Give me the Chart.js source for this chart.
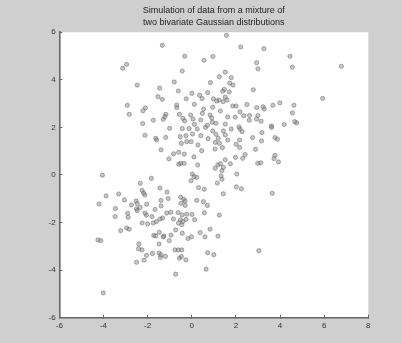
<!DOCTYPE html>
<html>
<head>
<meta charset="utf-8">
<script src="https://cdn.jsdelivr.net/npm/chart.js@4.4.1/dist/chart.umd.min.js"></script>
<style>
  html, body { margin: 0; padding: 0; background: #cfcfcf; }
  #wrap { position: relative; width: 402px; height: 343px; }
</style>
</head>
<body>
<div id="wrap"><canvas id="c"></canvas></div>
<script>
// Title lines
const titleLines = ["Simulation of data from a mixture of", "two bivariate Gaussian distributions"];

// Axis tick settings
const xTickValues = [-6, -4, -2, 0, 2, 4, 6, 8];
const yTickValues = [-6, -4, -2, 0, 2, 4, 6];

// Upper component
const clusterA_x = [
  -1.33,-0.32,0.56,-2.95,-3.13,-0.43,-2.47,-0.79,-1.45,-0.61,
  0.01,-1.53,-1.33,-0.25,0.36,0.47,0.72,-2.92,-2.83,-2.10,
  -2.21,-0.68,-0.68,0.12,0.48,-1.17,-1.22,-1.29,-0.56,-1.74,
  -2.22,-0.40,-0.32,0.06,0.41,0.62,0.71,-0.43,-0.12,0.25,
  -2.12,-1.63,-1.59,-1.18,-0.52,-0.26,0.04,0.41,0.74,-0.03,
  -0.23,-0.47,0.28,-1.39,-0.82,-0.59,-0.34,-1.03,0.10,0.45,
  -0.59,-0.50,-0.35,0.27,0.03,0.10,0.23,-1.83,-1.00,0.95,
  1.10,1.20,1.43,1.52,1.79,2.19,2.28,1.07,1.25,1.63,
  2.17,2.76,3.18,3.16,1.06,1.39,2.17,2.01,2.89,1.06,
  1.18,1.30,1.43,1.37,1.75,1.98,2.31,2.42,2.99,3.13,
  1.33,1.37,2.04,1.16,1.43,2.02,2.25,1.52,3.77,3.73,
  3.93,3.65,3.77,3.88,1.57,2.22,3.27,0.96,2.94,3.00,
  1.52,1.25,1.79,0.85,1.72,1.87,1.48,1.40,1.70,2.79,
  1.52,1.60,0.98,1.13,1.24,1.42,1.86,2.01,2.50,3.23,
  2.95,0.54,0.95,1.30,2.19,1.97,1.63,2.36,2.62,-0.05,
  0.83,0.91,0.12,0.93,1.10,1.52,2.14,2.61,2.93,3.00,
  3.14,3.29,4.45,4.56,6.78,5.93,4.63,4.56,3.99,3.68,
  4.67,4.75,4.19,3.61,3.62,0.31,0.57,0.53,0.71,0.57,
  1.25,0.38,0.60,0.83,1.19,3.04,0.72,1.00,0.65,0.23,
  -0.03
];
const clusterA_y = [
  5.45,4.99,4.82,4.65,4.49,4.37,3.78,3.91,3.65,3.53,
  3.43,3.29,3.18,3.20,3.35,3.21,3.46,2.93,2.55,2.82,
  2.70,2.94,2.83,2.97,2.59,2.55,2.45,2.34,2.55,2.30,
  2.16,2.38,2.27,2.35,2.31,2.00,2.09,1.95,1.95,1.93,
  1.67,1.54,1.47,1.58,1.61,1.65,1.72,1.65,1.53,1.40,
  1.40,1.33,1.26,1.06,0.89,0.95,0.88,0.68,0.76,1.02,
  0.45,0.49,0.49,0.42,0.04,-0.07,-0.10,-0.14,1.96,1.85,
  1.71,1.54,1.85,1.68,1.93,1.93,1.82,1.37,1.33,1.47,
  1.47,1.57,1.78,1.43,1.09,1.15,1.16,1.29,1.08,0.28,
  0.42,0.47,0.32,0.18,0.47,0.74,0.70,0.86,0.49,0.51,
  -0.04,-0.18,0.04,-0.34,-0.79,-0.50,-0.58,0.64,0.83,0.69,
  0.55,-0.77,1.57,1.50,5.87,5.38,5.31,4.98,4.72,4.46,
  4.32,4.13,4.09,3.88,3.86,3.78,3.60,3.52,3.49,3.58,
  3.27,3.15,3.20,3.11,3.15,3.08,2.90,2.90,2.96,2.87,
  2.83,2.77,2.85,2.69,2.65,2.43,2.44,2.49,2.50,2.52,
  2.52,2.40,2.13,2.22,2.17,2.14,2.02,2.30,2.35,2.50,
  2.26,2.77,4.99,4.53,4.57,3.22,2.93,2.61,3.03,2.93,
  2.24,2.19,2.12,2.06,2.00,-0.53,-0.60,-1.12,-1.28,-1.59,
  -1.69,-2.42,-2.60,-2.28,-2.57,-3.18,-3.27,-3.35,-3.96,-1.07,
  -0.24
];

// Lower component
const clusterB_x = [
  -4.05,-0.50,-0.36,-0.30,-0.30,-0.49,-1.13,-0.95,-0.62,-0.44,
  -0.23,0.01,-0.83,-1.44,-1.32,-0.51,-0.40,-0.26,0.13,-1.44,
  -1.12,-1.07,-1.39,-1.39,-2.33,-2.25,-2.18,-2.12,-3.31,-3.88,
  -3.05,-2.52,-2.47,-2.73,-2.04,-4.20,-3.46,-2.50,-2.34,-2.47,
  -1.66,-2.90,-2.88,-3.47,-2.12,-2.05,-1.80,-2.25,-2.00,-1.74,
  -1.60,-0.60,-0.45,-3.22,-2.95,-2.83,-1.72,-1.63,-1.47,-1.26,
  -1.29,-0.94,-1.02,-0.73,-0.43,-0.17,-0.01,-2.39,-2.41,-2.25,
  -2.05,-2.50,-2.16,-1.78,-1.48,-1.39,-1.42,-1.48,-1.19,-0.76,
  -0.61,-0.45,-0.56,-0.47,-0.27,-0.73,-4.01,-4.25,-4.12
];
const clusterB_y = [
  -0.01,-0.94,-1.02,-1.10,-1.28,-1.19,-1.60,-1.57,-1.58,-1.68,
  -1.65,-1.66,-1.85,-1.85,-1.81,-1.89,-1.96,-1.87,-1.88,-0.55,
  -0.72,-0.99,-1.07,-1.30,-0.35,-0.65,-0.76,-0.84,-0.80,-0.88,
  -1.05,-1.09,-1.20,-1.26,-1.23,-1.22,-1.41,-1.42,-1.36,-1.50,
  -1.45,-1.61,-1.78,-1.75,-1.60,-1.69,-1.75,-2.02,-2.06,-2.02,
  -1.96,-2.02,-2.09,-2.34,-2.23,-2.28,-2.54,-2.56,-2.41,-2.57,
  -2.60,-2.53,-2.76,-2.31,-2.45,-2.67,-2.60,-2.90,-3.10,-3.15,
  -3.38,-3.67,-3.58,-3.30,-3.28,-3.36,-3.47,-2.90,-3.42,-3.15,
  -3.15,-3.15,-3.50,-3.43,-3.57,-4.17,-4.96,-2.73,-2.76
];

const allX = clusterA_x.concat(clusterB_x);
const allY = clusterA_y.concat(clusterB_y);
const points = allX.map((x, i) => ({ x: x, y: allY[i] }));

const plotBg = {
  id: 'plotBg',
  beforeDraw(chart) {
    const { ctx, chartArea: a } = chart;
    ctx.save();
    ctx.fillStyle = '#ffffff';
    ctx.fillRect(a.left, a.top, a.right - a.left, a.bottom - a.top);
    ctx.restore();
  }
};

const axisColor = '#666666';
const tickFont = { family: "'Liberation Sans', Arial, sans-serif", size: 8 };

new Chart(document.getElementById('c'), {
  type: 'scatter',
  data: {
    datasets: [{
      data: points,
      pointRadius: 2.1,
      pointHoverRadius: 2.1,
      pointBackgroundColor: 'rgba(130,130,130,0.45)',
      pointBorderColor: 'rgba(90,90,90,0.6)',
      pointBorderWidth: 0.8,
      showLine: false
    }]
  },
  options: {
    animation: false,
    responsive: true,
    maintainAspectRatio: false,
    devicePixelRatio: 1,
    layout: { padding: { left: 0, right: 33.7, top: 0, bottom: 0 } },
    plugins: {
      legend: { display: false },
      tooltip: { enabled: false },
      title: {
        display: true,
        text: titleLines,
        fullSize: false,
        color: '#222222',
        font: { family: "'Liberation Sans', Arial, sans-serif", size: 9, weight: 'normal', lineHeight: 1.33 },
        padding: { top: 4.7, bottom: 3.6 }
      }
    },
    scales: {
      x: {
        type: 'linear',
        min: -6, max: 8,
        afterBuildTicks: s => { s.ticks = xTickValues.map(v => ({ value: v })); },
        ticks: { font: tickFont, color: '#333333', padding: 6.6, maxRotation: 0, autoSkip: false },
        grid: { display: true, drawOnChartArea: false, drawTicks: true, tickLength: -3, color: axisColor, lineWidth: 1 },
        border: { display: true, color: axisColor, width: 1.6 },
        afterFit: s => { s.height = 25.3; }
      },
      y: {
        type: 'linear',
        min: -6, max: 6,
        afterBuildTicks: s => { s.ticks = yTickValues.map(v => ({ value: v })); },
        ticks: { font: tickFont, color: '#333333', padding: 6.6, autoSkip: false },
        grid: { display: true, drawOnChartArea: false, drawTicks: true, tickLength: -3, color: axisColor, lineWidth: 1 },
        border: { display: true, color: axisColor, width: 1.6 },
        afterFit: s => { s.width = 59.3; }
      }
    }
  },
  plugins: [plotBg]
});
</script>
</body>
</html>
